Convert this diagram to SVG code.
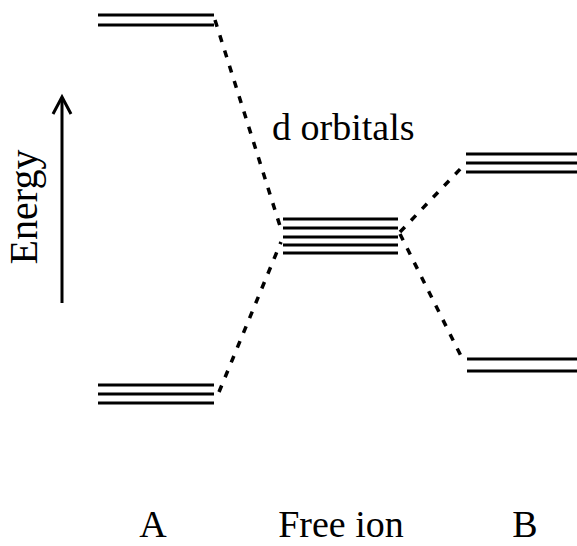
<svg xmlns="http://www.w3.org/2000/svg" width="577" height="546" viewBox="0 0 577 546">
<style>
.lvl{stroke:#000;stroke-width:3;fill:none}
.dash{stroke:#000;stroke-width:3.5;fill:none;stroke-dasharray:7 9}
.t{font-family:"Liberation Serif","Times New Roman",serif;fill:#000}
</style>
<rect width="577" height="546" fill="#fff"/>
<g id="axis">
<line x1="62" y1="303" x2="62" y2="100" stroke="#000" stroke-width="3"/>
<path d="M53 114 L62 97 L71 114" stroke="#000" stroke-width="3" fill="none"/>
<text class="t" transform="translate(37,207) rotate(-90)" font-size="40" text-anchor="middle">Energy</text>
</g>
<g id="A-upper">
<line class="lvl" x1="98" y1="15" x2="214" y2="15"/>
<line class="lvl" x1="98" y1="25" x2="214" y2="25"/>
</g>
<g id="A-lower">
<line class="lvl" x1="98" y1="385" x2="214" y2="385"/>
<line class="lvl" x1="98" y1="394" x2="214" y2="394"/>
<line class="lvl" x1="98" y1="403" x2="214" y2="403"/>
</g>
<g id="free-ion">
<line class="lvl" x1="283" y1="219" x2="398" y2="219"/>
<line class="lvl" x1="283" y1="228" x2="398" y2="228"/>
<line class="lvl" x1="283" y1="237" x2="398" y2="237"/>
<line class="lvl" x1="283" y1="245" x2="398" y2="245"/>
<line class="lvl" x1="283" y1="253" x2="398" y2="253"/>
</g>
<g id="B-upper">
<line class="lvl" x1="466" y1="154" x2="577" y2="154"/>
<line class="lvl" x1="466" y1="163" x2="577" y2="163"/>
<line class="lvl" x1="466" y1="172" x2="577" y2="172"/>
</g>
<g id="B-lower">
<line class="lvl" x1="467" y1="359" x2="577" y2="359"/>
<line class="lvl" x1="467" y1="371" x2="577" y2="371"/>
</g>
<g id="connectors">
<line class="dash" x1="215" y1="20" x2="280" y2="226"/>
<line class="dash" x1="219" y1="392" x2="281" y2="242"/>
<line class="dash" x1="400" y1="232" x2="465" y2="164"/>
<line class="dash" x1="400" y1="234" x2="464" y2="362"/>
</g>
<g id="labels">
<text class="t" x="272" y="140" font-size="38">d orbitals</text>
<text class="t" x="153" y="537" font-size="38" text-anchor="middle">A</text>
<text class="t" x="341" y="537" font-size="38" text-anchor="middle">Free ion</text>
<text class="t" x="525" y="537" font-size="38" text-anchor="middle">B</text>
</g>
</svg>
